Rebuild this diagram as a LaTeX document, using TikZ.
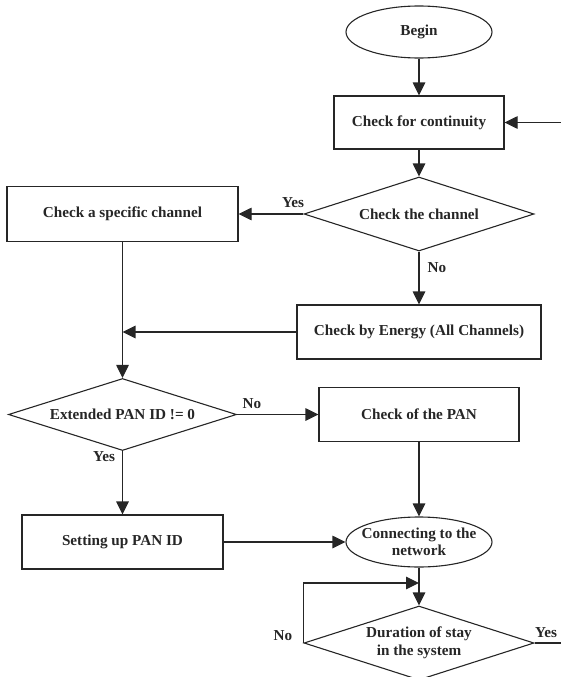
\documentclass[tikz,border=0pt]{standalone}
\usepackage{fontspec}
\setmainfont{Liberation Serif}
\usetikzlibrary{shapes.geometric,arrows.meta}
\begin{document}
\begin{tikzpicture}[x=1pt,y=-1pt,
  every node/.style={font=\fontsize{15.2}{17.5}\selectfont\bfseries, text=black!85},
  box/.style={draw=black!85, rectangle, inner sep=0pt, line width=1.1pt},
  oval/.style={draw=black!85, ellipse, inner sep=0pt, line width=1.1pt, minimum width=146pt, minimum height=52pt},
  dia/.style={draw=black!85, diamond, inner sep=0pt, line width=1.1pt, minimum width=230pt, minimum height=74pt},
  lbl/.style={inner sep=0pt, align=center},
  arr/.style={draw=black!85, line width=1.1pt, -{Triangle[length=13pt,width=12.5pt]}},
  ln/.style={draw=black!85, line width=1.1pt}]
\useasboundingbox (0,0) rectangle (560,677);

\node[oval, label={[lbl]center:Begin}] (bg) at (419,32) {};
\node[box, minimum width=170pt, minimum height=53pt] (ct) at (419,122.5) {Check for continuity};
\node[dia, label={[lbl]center:Check the channel}] (ch) at (419,214) {};
\node[box, minimum width=231pt, minimum height=55pt] (sc) at (122.5,214) {Check a specific channel};
\node[box, minimum width=244pt, minimum height=54pt] (en) at (419,332) {Check by Energy (All Channels)};
\node[dia, minimum width=228pt, minimum height=72pt, label={[lbl]center:Extended PAN ID != 0}] (pn) at (122.5,414.5) {};
\node[box, minimum width=200pt, minimum height=54pt] (cp) at (419,414.5) {Check of the PAN};
\node[box, minimum width=201pt, minimum height=54pt] (su) at (122.5,542) {Setting up PAN ID};
\node[oval, minimum height=50pt, label={[lbl]center:Connecting to the\\network}] (cn) at (419,542) {};
\node[dia, label={[lbl]center:Duration of stay\\in the system}] (du) at (419,643) {};

\coordinate (mj) at (122.5,332);
\coordinate (fb) at (419,583);
\coordinate (rt1) at (570,643);
\coordinate (rt2) at (570,122.5);

\draw[arr] (bg.south) -- (ct.north);
\draw[arr] (du.east) -- (rt1) -- (rt2) -- (ct.east);
\draw[arr] (ct.south) -- (ch.north);
\draw[arr] (ch.west) -- (sc.east);
\draw[arr] (ch.south) -- (en.north);
\draw[arr] (en.west) -- (mj);
\draw[arr] (sc.south) -- (pn.north);
\draw[arr] (pn.east) -- (cp.west);
\draw[arr] (pn.south) -- (su.north);
\draw[arr] (su.east) -- (cn.west);
\draw[arr] (cp.south) -- (cn.north);
\draw[arr] (cn.south) -- (du.north);
\draw[arr] (du.west) |- (fb);

\node[lbl] (l1) at (293,203) {Yes};
\node[lbl] (l2) at (437,268) {No};
\node[lbl] (l3) at (252,404) {No};
\node[lbl] (l4) at (104,457) {Yes};
\node[lbl] (l5) at (283,636) {No};
\node[lbl] (l6) at (546,633) {Yes};
\end{tikzpicture}
\end{document}
